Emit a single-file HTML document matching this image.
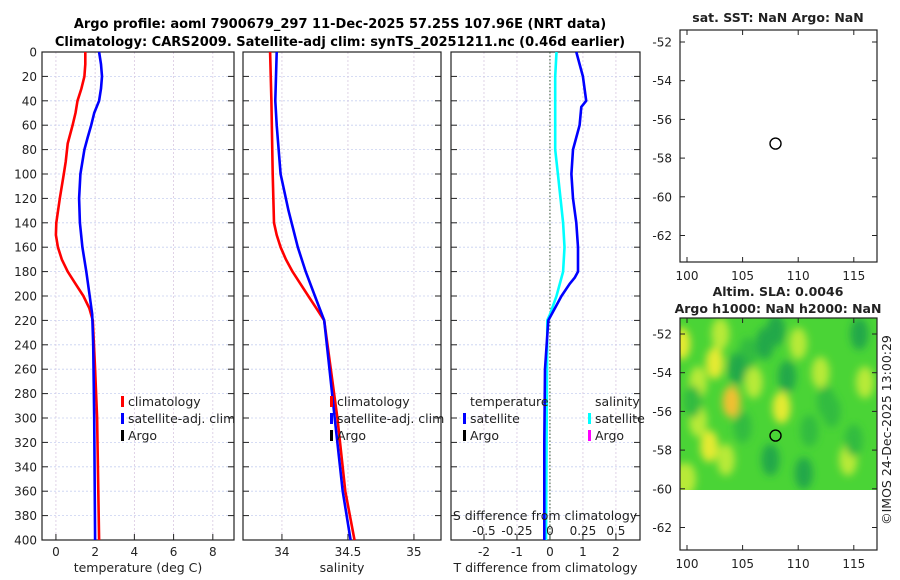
<!DOCTYPE html>
<html><head><meta charset="utf-8">
<style>
body{margin:0;background:#fff;}
svg{display:block;font-family:"DejaVu Sans","Liberation Sans",sans-serif;}
</style></head>
<body>
<svg id="chart" width="900" height="580" viewBox="0 0 900 580">
<text x="340" y="28" font-size="13" font-weight="bold" text-anchor="middle">Argo profile: aoml 7900679_297 11-Dec-2025 57.25S 107.96E (NRT data)</text>
<text x="340" y="46" font-size="13" font-weight="bold" text-anchor="middle">Climatology: CARS2009. Satellite-adj clim: synTS_20251211.nc (0.46d earlier)</text>
<g id="g"></g>
</svg>
<script>
// ---- data ----
const depthTicks=[0,20,40,60,80,100,120,140,160,180,200,220,240,260,280,300,320,340,360,380,400];
const tTicks=[0,2,4,6,8];
const sTicks=[34,34.5,35];
const dTTicks=[-2,-1,0,1,2];
const dSTicks=[-0.5,-0.25,0,0.25,0.5];
const dSTickLabels=["-0.5","-0.25","0","0.25","0.5"];
const climTdepth=[0,10,20,30,40,50,60,75,90,100,120,140,150,160,170,180,190,200,210,220,260,300,400];
const climT=[1.5,1.5,1.45,1.3,1.1,1.0,0.85,0.6,0.5,0.4,0.2,0.02,0.0,0.1,0.3,0.6,1.0,1.4,1.7,1.88,2.0,2.1,2.2];
const satTdepth=[0,10,20,30,40,50,60,70,80,100,120,140,160,180,200,215,240,300,400];
const satT=[2.2,2.3,2.35,2.3,2.2,1.95,1.8,1.62,1.45,1.25,1.18,1.22,1.35,1.55,1.72,1.85,1.9,1.95,2.0];
const climSdepth=[0,40,100,140,150,160,170,180,190,200,210,220,260,300,360,400];
const climS=[33.91,33.92,33.93,33.94,33.96,33.99,34.03,34.08,34.14,34.2,34.26,34.32,34.37,34.42,34.48,34.55];
const satSdepth=[0,40,60,100,130,160,180,200,220,260,300,360,400];
const satS=[33.96,33.95,33.96,33.99,34.05,34.12,34.18,34.25,34.32,34.36,34.40,34.46,34.52];
const dTdepth=[0,20,40,45,60,80,100,120,140,160,180,185,190,200,210,220,260,320,400];
const dT=[0.8,1.0,1.1,0.95,0.9,0.7,0.65,0.7,0.8,0.85,0.85,0.75,0.6,0.35,0.15,-0.05,-0.15,-0.17,-0.17];
const dSdepth=[0,20,40,60,80,100,120,140,160,180,200,215,220,400];
const dS=[0.05,0.04,0.04,0.04,0.04,0.06,0.08,0.1,0.11,0.1,0.05,0,-0.02,-0.03];
const lonTicks=[100,105,110,115];
const latTicks=[-52,-54,-56,-58,-60,-62];
const argoLon=[107.96], argoLat=[-57.25];
// SLA blobs: lon, lat, value (low = dark green, high = orange)
const blobLon=[99.5,102.5,104,103,101,102,108.5,106,112,114.5,116,110,100,105.5,113,101,103.5,107,109,111,115,99.5,110.5,105,115.5,107.5,112.5,104.5,100.5,108];
const blobLat=[-52.5,-53.5,-55.5,-52,-56.5,-57.8,-55.8,-54.5,-54,-58.5,-54.5,-52.5,-59.5,-53,-56,-54.5,-58.5,-52.5,-54.2,-57,-57.5,-59.5,-59.2,-56.8,-52,-58.5,-55.5,-53.8,-55.5,-51.8];
const blobVal=[0.7,0.8,1.0,0.6,0.6,0.7,0.75,0.5,0.5,0.6,0.5,0.5,0.5,0.4,0.4,0.6,0.55,0.1,0.1,0.15,0.15,0.55,0.05,0.15,0.0,0.1,0.2,0.1,0.2,0.05];

const NS="http://www.w3.org/2000/svg";
const G=document.getElementById('g');
function mk(tag,attrs,parent){const e=document.createElementNS(NS,tag);for(const k in attrs)e.setAttribute(k,attrs[k]);(parent||G).appendChild(e);return e;}
function txt(x,y,s,anchor,size,parent){const t=mk('text',{x:x,y:y,'font-size':size||12,'text-anchor':anchor||'middle',fill:'#222'},parent);t.textContent=s;return t;}

const Y0=52,Y1=540;
const yD=d=>Y0+(d/400)*(Y1-Y0);
function panel(name,x0,x1,xmin,xmax){
  const g=mk('g',{});
  
  
  return {g,x0,x1,sx:v=>x0+(v-xmin)/(xmax-xmin)*(x1-x0)};
}
function frame(p,xt,xl,axisLabel,withDepthLabels){
  for(const d of depthTicks){
    const y=yD(d);
    mk('line',{x1:p.x0,x2:p.x1,y1:y,y2:y,stroke:'#c8d0f0','stroke-dasharray':'2,2','stroke-width':0.8},p.g);
    mk('line',{x1:p.x0,x2:p.x0+6,y1:y,y2:y,stroke:'#222'},p.g);
    mk('line',{x1:p.x1-6,x2:p.x1,y1:y,y2:y,stroke:'#222'},p.g);
    if(withDepthLabels){const t=txt(p.x0-5,y+4.5,String(d),'end',12,p.g);}
  }
  xt.forEach((v,i)=>{
    const x=p.sx(v);
    mk('line',{x1:x,x2:x,y1:Y0,y2:Y1,stroke:'#d8c8e0','stroke-dasharray':'2,2','stroke-width':0.8},p.g);
    mk('line',{x1:x,x2:x,y1:Y1,y2:Y1-6,stroke:'#222'},p.g);
    const t=txt(x,556,xl[i],'middle',12,p.g);
    
    
  });
  mk('rect',{x:p.x0,y:Y0,width:p.x1-p.x0,height:Y1-Y0,fill:'none',stroke:'#222','stroke-width':1.2},p.g);
  const a=txt((p.x0+p.x1)/2,572,axisLabel,'middle',12.5,p.g);
  
  
}
function line(p,xs,ds,color,name,sx){
  const f=sx||p.sx;
  const pts=xs.map((v,i)=>f(v).toFixed(1)+','+yD(ds[i]).toFixed(1)).join(' ');
  const l=mk('polyline',{points:pts,fill:'none',stroke:color,'stroke-width':2.6,'stroke-linejoin':'round'},p.g);
  
  
}
function legend(p,x,y,items){
  items.forEach((it,i)=>{
    mk('rect',{x:x,y:y+i*17-10,width:3,height:11,fill:it[1]},p.g);
    const t=txt(x+7,y+i*17,it[0],'start',12.5,p.g);
    
    
  });
}
// Panel 1
const p1=panel('temperature-panel',42,234,-0.71,9.08);
frame(p1,tTicks,tTicks.map(String),'temperature (deg C)',true);
line(p1,climT,climTdepth,'#ff0000','temp-climatology-line');
line(p1,satT,satTdepth,'#0000ff','temp-satellite-line');
legend(p1,121,406,[['climatology','#f00'],['satellite-adj. clim','#00f'],['Argo','#000']]);
// Panel 2
const p2=panel('salinity-panel',243,441,33.705,35.205);
frame(p2,sTicks,sTicks.map(String),'salinity',false);
line(p2,climS,climSdepth,'#ff0000','sal-climatology-line');
line(p2,satS,satSdepth,'#0000ff','sal-satellite-line');
legend(p2,330,406,[['climatology','#f00'],['satellite-adj. clim','#00f'],['Argo','#000']]);
// Panel 3
const p3=panel('difference-panel',451,640,-3.0,2.73);
frame(p3,dTTicks,dTTicks.map(String),'T difference from climatology',false);
const zx=p3.sx(0);
mk('line',{x1:zx,x2:zx,y1:Y0,y2:Y1,stroke:'#335533','stroke-dasharray':'1.5,2','stroke-width':1},p3.g);
const sxS=v=>p3.sx(0)+v*(p3.sx(1)-p3.sx(0))/0.25;
line(p3,dS,dSdepth,'#00ffff','sal-diff-line',sxS);
line(p3,dT,dTdepth,'#0000ff','temp-diff-line');
{const t=txt(470,406,'temperature','start',12.5,p3.g);}
{const t=txt(595,406,'salinity','start',12.5,p3.g);}
legend(p3,463,423,[['satellite','#00f'],['Argo','#000']]);
legend(p3,588,423,[['satellite','#0ff'],['Argo','#f0f']]);
{const t=txt(545,520,'S difference from climatology','middle',12.5,p3.g);}
dSTicks.forEach((v,i)=>{const t=txt(sxS(v),535,dSTickLabels[i],'middle',12,p3.g);});

// Maps
function map(name,x0,y0,x1,y1,lat0){
  const g=mk('g',{});
  
  
  const sx=v=>x0+7+(v-100)*11.12;
  const sy=v=>lat0+(-52-v)*19.35;
  return {g,x0,y0,x1,y1,sx,sy};
}
function mapFrame(m){
  for(const v of lonTicks){const x=m.sx(v);mk('line',{x1:x,x2:x,y1:m.y1,y2:m.y1-5,stroke:'#222'},m.g);mk('line',{x1:x,x2:x,y1:m.y0,y2:m.y0+5,stroke:'#222'},m.g);const t=txt(x,m.y1+18,String(v),'middle',12,m.g);}
  for(const v of latTicks){const y=m.sy(v);mk('line',{x1:m.x0,x2:m.x0+5,y1:y,y2:y,stroke:'#222'},m.g);mk('line',{x1:m.x1-5,x2:m.x1,y1:y,y2:y,stroke:'#222'},m.g);const t=txt(m.x0-8,y+4.5,String(v),'end',12,m.g);}
  mk('rect',{x:m.x0,y:m.y0,width:m.x1-m.x0,height:m.y1-m.y0,fill:'none',stroke:'#222','stroke-width':1.2},m.g);
  const c=mk('ellipse',{cx:m.sx(argoLon[0]),cy:m.sy(argoLat[0]),rx:5.5,ry:5.5,fill:'none',stroke:'#000','stroke-width':1.4},m.g);
  
  
}
const m1=map('sst-map',680,30,877,262,42);
{const t=txt(778,22,'sat. SST: NaN Argo: NaN','middle',12.5,m1.g);t.setAttribute('font-weight','bold');}
mapFrame(m1);

const m2=map('sla-map',680,318,877,550,334);
const defs=mk('defs',{});
const fl=mk('filter',{id:'blur',x:'-50%',y:'-50%',width:'200%',height:'200%'},defs);
mk('feGaussianBlur',{stdDeviation:4},fl);
const cp=mk('clipPath',{id:'clipsla'},defs);
mk('rect',{x:680,y:318,width:197,height:172},cp);
const field=mk('g',{'clip-path':'url(#clipsla)'},m2.g);


mk('rect',{x:680,y:318,width:197,height:172,fill:'#4ad436'},field);
const bg=mk('g',{filter:'url(#blur)'},field);
blobLon.forEach((lo,i)=>{
  const v=blobVal[i];
  const col=v>0.9?'#f0c030':v>0.65?'#e4ea30':v>0.45?'#b8ea38':v>0.12?'#30bc40':'#22a84a';
  const b=mk('ellipse',{cx:m2.sx(lo),cy:m2.sy(blobLat[i]),rx:9,ry:16,fill:col},bg);
  
  
});
{const t=txt(778,296,'Altim. SLA: 0.0046','middle',12.5,m2.g);t.setAttribute('font-weight','bold');}
{const t=txt(778,313,'Argo h1000: NaN h2000: NaN','middle',12.5,m2.g);t.setAttribute('font-weight','bold');}
mapFrame(m2);
{const t=txt(0,0,'©IMOS 24-Dec-2025 13:00:29','middle',12.5);t.setAttribute('transform','translate(891,430) rotate(-90)');}
</script>
</body></html>
